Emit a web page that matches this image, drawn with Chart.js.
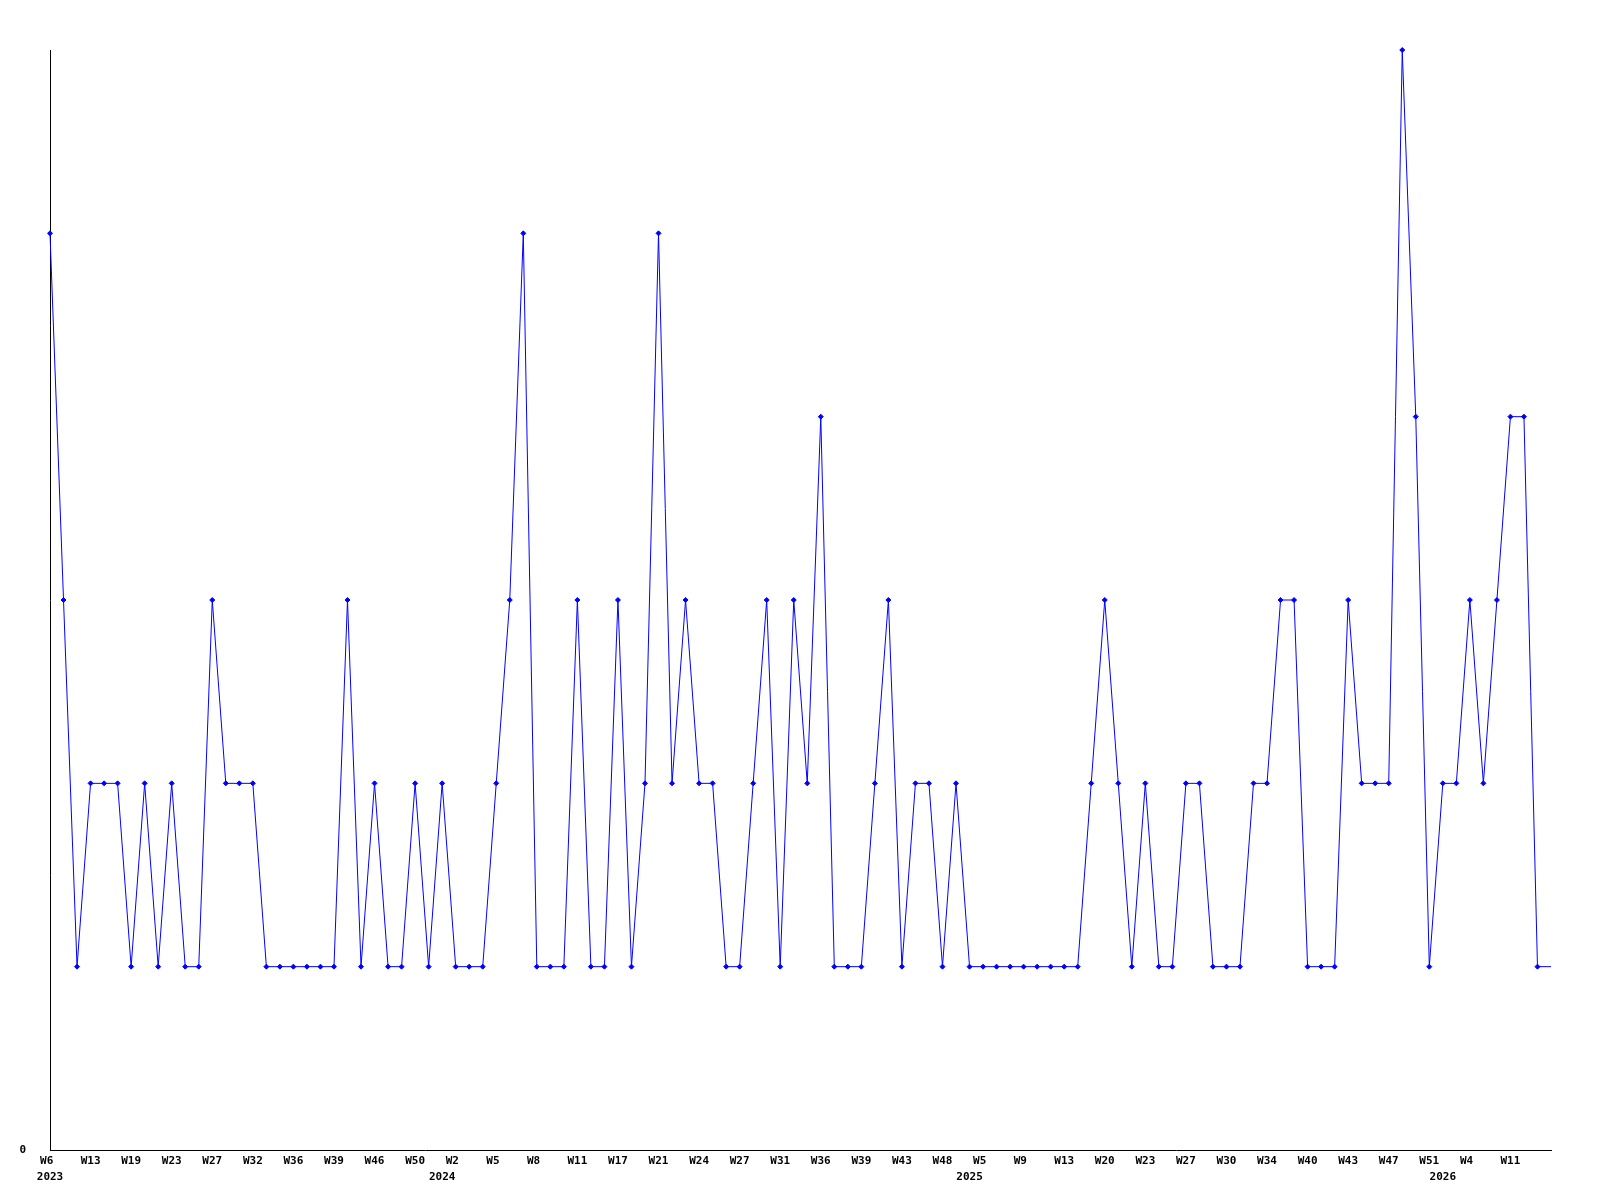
<!DOCTYPE html>
<html lang="en">
<head>
    <meta charset="UTF-8">
    <title>Weekly count</title>
    <script src="https://cdn.jsdelivr.net/npm/chart.js"></script>
    <style>
        body {
            margin: 0;
            background: #ffffff;
        }
        #chart {
            display: block;
        }
    </style>
</head>
<body>
    <canvas id="chart" width="1600" height="1200"></canvas>

    <script>
        // ISO weeks that have data, per year
        const weeks2023 = [6, 8, 10, 13, 15, 17, 19, 20, 22, 23, 24, 26, 27, 29, 30, 32, 33, 35, 36, 37, 38, 39, 41, 44, 46, 47, 49, 50, 52];
        const weeks2024 = [1, 2, 3, 4, 5, 6, 7, 8, 9, 10, 11, 13, 15, 17, 18, 20, 21, 22, 23, 24, 25, 26, 27, 29, 30, 31, 33, 35, 36, 37, 38, 39, 40, 42, 43, 45, 47, 48, 50];
        const weeks2025 = [3, 5, 6, 8, 9, 10, 12, 13, 15, 18, 20, 21, 22, 23, 25, 26, 27, 28, 29, 30, 31, 33, 34, 36, 38, 40, 41, 42, 43, 45, 46, 47, 48, 50, 51];
        const weeks2026 = [1, 3, 4, 6, 9, 11, 12, 13, 14];

        // counts per week, same order as the weeks above
        const counts = [
            5, 3, 1, 2, 2, 2, 1, 2, 1, 2, 1, 1,
            3, 2, 2, 2, 1, 1, 1, 1, 1, 1, 3, 1,
            2, 1, 1, 2, 1, 2, 1, 1, 1, 2, 3, 5,
            1, 1, 1, 3, 1, 1, 3, 1, 2, 5, 2, 3,
            2, 2, 1, 1, 2, 3, 1, 3, 2, 4, 1, 1,
            1, 2, 3, 1, 2, 2, 1, 2, 1, 1, 1, 1,
            1, 1, 1, 1, 1, 2, 3, 2, 1, 2, 1, 1,
            2, 2, 1, 1, 1, 2, 2, 3, 3, 1, 1, 1,
            3, 2, 2, 2, 6, 4, 1, 2, 2, 3, 2, 3,
            4, 4, 1, 1
        ];

        const yearWeeks = [[2023, weeks2023], [2024, weeks2024], [2025, weeks2025], [2026, weeks2026]];

        const labels = [];
        const weekText = [];
        const yearText = [];
        yearWeeks.forEach(([year, weeks]) => {
            weeks.forEach((w, i) => {
                labels.push(year + "-W" + String(w).padStart(2, "0"));
                weekText.push("W" + String(w).padEnd(2, " "));
                yearText.push(i === 0 ? String(year) : "");
            });
        });

        const tickFont = { family: "'DejaVu Sans Mono', monospace", size: 11, weight: "bold", lineHeight: "16px" };
        const lastIndex = counts.length - 1;

        new Chart(document.getElementById("chart"), {
            type: "line",
            data: {
                labels: labels,
                datasets: [{
                    data: counts,
                    borderColor: "#0000ff",
                    backgroundColor: "#0000ff",
                    borderWidth: 1,
                    tension: 0,
                    pointStyle: "rectRot",
                    pointRadius: (ctx) => ctx.dataIndex === lastIndex ? 0 : 2.5,
                    pointBorderWidth: 1,
                    clip: false
                }]
            },
            options: {
                responsive: false,
                animation: false,
                layout: {
                    padding: { top: 50, right: 49, left: 0, bottom: 0 }
                },
                plugins: {
                    legend: { display: false },
                    tooltip: { enabled: false }
                },
                scales: {
                    x: {
                        grid: { display: false, drawTicks: false, tickLength: 0 },
                        border: { display: true, color: "#000000", width: 1 },
                        afterFit: (scale) => { scale.height = 50; },
                        ticks: {
                            autoSkip: false,
                            maxRotation: 0,
                            minRotation: 0,
                            padding: 3,
                            color: "#000000",
                            font: tickFont,
                            callback: (value, index) => {
                                // every third week is labelled, the last point is not
                                const w = (index % 3 === 0 && index < lastIndex) ? weekText[index] : "";
                                const y = yearText[index];
                                if (!w && !y) return "";
                                return [w, y];
                            }
                        }
                    },
                    y: {
                        min: 0,
                        max: 6,
                        grid: { display: false, drawTicks: false, tickLength: 0 },
                        border: { display: true, color: "#000000", width: 1 },
                        afterFit: (scale) => { scale.width = 50; },
                        ticks: {
                            stepSize: 6,
                            padding: 24,
                            color: "#000000",
                            font: tickFont,
                            callback: (value) => value === 0 ? "0" : ""
                        }
                    }
                }
            }
        });
    </script>
</body>
</html>
